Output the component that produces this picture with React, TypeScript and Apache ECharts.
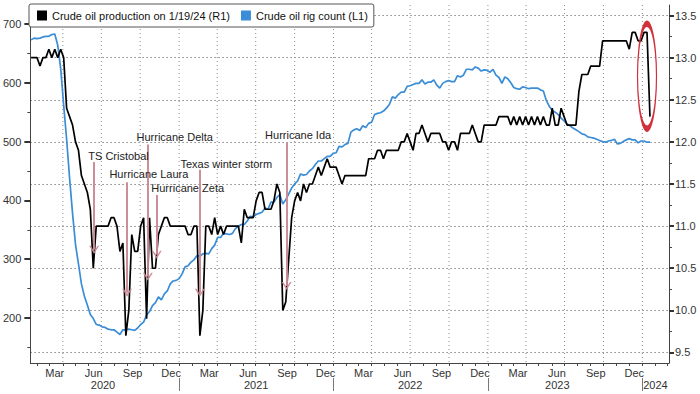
import React, { useEffect, useRef } from "react";
import * as echarts from "echarts";

const FONT = "'Liberation Sans', Arial, sans-serif";
const PROD_NAME = "Crude oil production on 1/19/24 (R1)";
const RIG_NAME = "Crude oil rig count (L1)";
const BLUE = "#3a8dd6";
const ARROW = "#c98893";
const GRID_COLOR = "#8c8c8c";

// Weekly observations (Fridays) starting 2020-01-17
const FIRST_FRIDAY = "2020-01-17";

// US crude oil production, million b/d (right axis)
const prod2020 = [13.0, 13.0, 13.0, 12.9, 13.0, 13.0, 13.1, 13.0, 13.1, 13.0, 13.1,
  13.0, 12.4, 12.3, 12.2, 12.0, 11.9, 11.6, 11.5, 11.4, 11.2,
  10.5, 11.0, 11.0, 11.0, 11.0, 11.0, 11.1, 11.1, 11.0, 10.7,
  10.8, 9.7, 10.0, 10.9, 10.7, 10.7, 11.0, 11.1, 9.9, 11.1,
  10.5, 10.5, 10.9, 11.0, 11.1, 11.1, 11.0, 11.0, 11.0, 11.0];
const prod2021 = [11.0, 11.0, 10.9, 10.9, 11.0, 11.0, 9.7, 10.0, 11.0, 11.0,
  10.9, 11.1, 10.9, 11.0, 10.9, 11.0, 11.0, 11.0, 11.0, 11.0,
  10.8, 11.2, 11.1, 11.1, 11.1, 11.3, 11.4, 11.4, 11.2, 11.2,
  11.2, 11.3, 11.5, 11.4, 10.0, 10.1, 10.6, 11.1, 11.3, 11.4,
  11.3, 11.5, 11.4, 11.5, 11.5, 11.6, 11.7, 11.6, 11.7, 11.8,
  11.7, 11.7];
const prod2022 = [11.7, 11.6, 11.5, 11.6, 11.6, 11.6, 11.6, 11.6, 11.6, 11.6,
  11.6, 11.8, 11.8, 11.8, 11.9, 11.9, 11.8, 11.9, 11.9, 11.9,
  11.9, 11.9, 12.0, 12.0, 12.1, 12.0, 11.9, 12.1, 12.1, 12.2,
  12.1, 12.0, 12.1, 12.1, 12.1, 12.1, 12.0, 12.0, 11.9, 12.0,
  12.0, 11.9, 12.1, 12.1, 12.1, 12.1, 12.2, 12.1, 12.0, 12.0,
  12.2, 12.2];
const prod2023 = [12.2, 12.2, 12.2, 12.3, 12.3, 12.3, 12.3, 12.2, 12.3, 12.2,
  12.3, 12.2, 12.3, 12.2, 12.3, 12.2, 12.3, 12.2, 12.3, 12.2,
  12.2, 12.4, 12.2, 12.2, 12.4, 12.3, 12.2, 12.2, 12.2, 12.2,
  12.6, 12.8, 12.8, 12.8, 12.9, 12.9, 12.9, 12.9, 13.2, 13.2,
  13.2, 13.2, 13.2, 13.2, 13.2, 13.2, 13.2, 13.1, 13.3, 13.3,
  13.2, 13.2];
const prod2024 = [13.3, 13.3, 12.3];

// US crude oil rig count (left axis)
const rig2020 = [673, 676, 675, 676, 678, 679, 679, 682, 683, 664, 624,
  562, 504, 438, 378, 325, 292, 258, 237, 222, 206,
  199, 189, 188, 185, 184, 181, 180, 180, 176, 172,
  180, 180, 181, 180, 179, 183, 189, 193, 205, 211,
  221, 226, 236, 231, 241, 246, 258, 263, 264, 267];
const rig2021 = [275, 287, 289, 295, 299, 306, 305, 309, 310, 309,
  318, 324, 337, 337, 344, 343, 342, 344, 352, 356,
  359, 359, 365, 373, 372, 376, 378, 380, 387, 385,
  397, 397, 405, 410, 394, 401, 411, 421, 428, 433,
  445, 443, 444, 450, 454, 461, 467, 467, 471, 475,
  475, 480];
const rig2022 = [481, 492, 491, 495, 497, 516, 520, 522, 519, 527,
  524, 531, 533, 546, 548, 549, 552, 557, 563, 576,
  574, 580, 584, 584, 594, 595, 597, 599, 599, 605,
  598, 601, 601, 605, 596, 591, 599, 602, 604, 602,
  602, 612, 610, 613, 623, 623, 622, 627, 625, 620,
  622, 621];
const rig2023 = [618, 623, 613, 609, 599, 610, 607, 600, 592, 590,
  589, 593, 592, 590, 591, 591, 591, 588, 586, 570,
  560, 553, 550, 546, 540, 535, 530, 527, 523, 520,
  517, 513, 512, 508, 507, 506, 504, 502, 500, 499,
  501, 502, 504, 496, 497, 500, 503, 505, 503, 503,
  498, 501];
const rig2024 = [501, 499, 499];

const production = [...prod2020, ...prod2021, ...prod2022, ...prod2023, ...prod2024];
const rigCount = [...rig2020, ...rig2021, ...rig2022, ...rig2023, ...rig2024];

// Axis ticks / labels
const RIG_TICKS = [200, 300, 400, 500, 600, 700];
const RIG_MINOR = [150, 250, 350, 450, 550, 650];
const PROD_TICKS = [9.5, 10.0, 10.5, 11.0, 11.5, 12.0, 12.5, 13.0, 13.5];
const PROD_MINOR = [9.75, 10.25, 10.75, 11.25, 11.75, 12.25, 12.75, 13.25];
const MONTH_LABELS = ["Mar", "Jun", "Sep", "Dec"];
const MONTH_NAMES = ["Jan", "Feb", "Mar", "Apr", "May", "Jun", "Jul", "Aug", "Sep", "Oct", "Nov", "Dec"];
const LABEL_YEARS = [2020, 2021, 2022, 2023];
const YEAR_LABEL_DATES = ["2020-07-05", "2021-07-02", "2022-07-01", "2023-06-14", "2024-02-01"];

// Annotations
const notes = [
  { label: "TS Cristobal", textAt: "2020-05-30", textV: 11.83, arrowAt: "2020-06-14", from: 11.76, to: 10.72 },
  { label: "Hurricane Laura", textAt: "2020-07-19", textV: 11.62, arrowAt: "2020-08-31", from: 11.52, to: 10.21 },
  { label: "Hurricane Delta", textAt: "2020-09-21", textV: 12.06, arrowAt: "2020-10-19", from: 11.97, to: 10.40 },
  { label: "Hurricane Zeta", textAt: "2020-10-26", textV: 11.45, arrowAt: "2020-11-09", from: 11.37, to: 10.66 },
  { label: "Texas winter storm", textAt: "2021-01-03", textV: 11.74, arrowAt: "2021-02-19", from: 11.67, to: 10.21 },
  { label: "Hurricane Ida", textAt: "2021-07-22", textV: 12.08, arrowAt: "2021-09-12", from: 11.99, to: 10.29 },
];
const HIGHLIGHT = { at: "2024-01-12", v: 12.78 };

const X_MIN = Date.UTC(2020, 0, 15, 6);
const X_MAX = Date.UTC(2024, 2, 4);
const WEEK_MS = 7 * 86400000;
const CHEVRON = "path://M5,0 L10,10 L8.4,10 L5,3.2 L1.6,10 L0,10 Z";

function monthStarts(filter: (m: number) => boolean): number[] {
  const out: number[] = [];
  for (let y = 2020; y <= 2024; y++) {
    for (let m = 0; m < 12; m++) {
      const t = Date.UTC(y, m, 1);
      if (t >= X_MIN && t <= X_MAX && filter(m)) out.push(t);
    }
  }
  return out;
}

export default function App() {
  const ref = useRef<HTMLDivElement>(null);

  useEffect(() => {
    document.body.style.margin = "0";
    if (!ref.current) return;
    const chart = echarts.init(ref.current, undefined, { renderer: "svg" });

    const start = Date.parse(FIRST_FRIDAY);
    const dates = production.map((_, i) => start + i * WEEK_MS);
    const prodData = production.map((v, i) => [dates[i], v]);
    const rigData = rigCount.map((v, i) => [dates[i], v]);

    const monthTicks = monthStarts(() => true);
    const quarterLines = monthStarts((m) => m % 3 === 0);
    const yearTicks = monthStarts((m) => m === 0);
    const monthLabelDates: number[] = [];
    LABEL_YEARS.forEach((y) => {
      MONTH_LABELS.forEach((name) => {
        monthLabelDates.push(Date.UTC(y, MONTH_NAMES.indexOf(name), 13));
      });
    });
    const yearLabelDates = YEAR_LABEL_DATES.map((d) => Date.parse(d));

    const txt = { fontFamily: FONT, fontSize: 11, color: "#333" };

    const option: any = {
      animation: false,
      textStyle: { fontFamily: FONT },
      grid: { left: 29, right: 31, top: 5, bottom: 31, containLabel: false },
      legend: {
        left: 29,
        top: 4,
        padding: [6, 6, 6, 8],
        itemWidth: 10,
        itemHeight: 10,
        itemGap: 11,
        icon: "rect",
        borderColor: "#555",
        borderWidth: 1,
        borderRadius: 2,
        backgroundColor: "#fff",
        textStyle: { fontFamily: FONT, fontSize: 11, color: "#111" },
        data: [PROD_NAME, RIG_NAME],
        z: 10,
      },
      xAxis: [
        {
          type: "value",
          position: "bottom",
          min: X_MIN,
          max: X_MAX,
          axisLine: { show: true, lineStyle: { color: "#444", width: 1 } },
          axisTick: { show: true, customValues: monthTicks, length: 3, lineStyle: { color: "#444" } },
          axisLabel: {
            show: true,
            customValues: monthLabelDates,
            formatter: (v: number) => MONTH_NAMES[new Date(v).getUTCMonth()],
            margin: 4,
            ...txt,
          },
          splitLine: { show: false },
        },
        {
          type: "value",
          position: "bottom",
          offset: 15,
          min: X_MIN,
          max: X_MAX,
          axisLine: { show: false },
          axisTick: { show: true, customValues: yearTicks, length: 13, lineStyle: { color: "#777" } },
          axisLabel: {
            show: true,
            customValues: yearLabelDates,
            formatter: (v: number) => String(new Date(v).getUTCFullYear()),
            margin: 1,
            ...txt,
          },
          splitLine: { show: false },
        },
      ],
      yAxis: [
        {
          type: "value",
          position: "left",
          min: 123.5,
          max: 732.3,
          axisLine: { show: true, lineStyle: { color: "#444" } },
          axisTick: { show: true, customValues: RIG_TICKS, length: 6, lineStyle: { color: "#333", width: 2 } },
          axisLabel: { show: true, customValues: RIG_TICKS, margin: 9, formatter: (v: number) => String(v), ...txt },
          splitLine: { show: false },
        },
        {
          type: "value",
          position: "right",
          min: 9.375,
          max: 13.625,
          splitNumber: 8,
          axisLine: { show: true, lineStyle: { color: "#444" } },
          axisTick: { show: true, customValues: PROD_TICKS, length: 5, lineStyle: { color: "#333", width: 2 } },
          axisLabel: { show: true, customValues: PROD_TICKS, margin: 6, formatter: (v: number) => v.toFixed(1), ...txt },
          splitLine: { show: true, lineStyle: { color: "#888", width: 1, type: [1.5, 2.5] } },
        },
        {
          type: "value",
          position: "left",
          min: 123.5,
          max: 732.3,
          axisLine: { show: false },
          axisTick: { show: true, customValues: RIG_MINOR, length: 3, lineStyle: { color: "#444" } },
          axisLabel: { show: false },
          splitLine: { show: false },
        },
        {
          type: "value",
          position: "right",
          min: 9.375,
          max: 13.625,
          axisLine: { show: false },
          axisTick: { show: true, customValues: PROD_MINOR, length: 3, lineStyle: { color: "#444" } },
          axisLabel: { show: false },
          splitLine: { show: false },
        },
      ],
      series: [
        {
          name: "vgrid",
          type: "custom",
          xAxisIndex: 0,
          yAxisIndex: 1,
          silent: true,
          z: 1,
          data: quarterLines.map((t) => [t, 11.5]),
          renderItem: (params: any, api: any) => {
            const cs = params.coordSys;
            const x = api.coord([api.value(0), api.value(1)])[0];
            return {
              type: "line",
              silent: true,
              shape: { x1: x, y1: cs.y, x2: x, y2: cs.y + cs.height },
              style: { stroke: GRID_COLOR, lineWidth: 1, lineDash: [1, 3] },
            };
          },
        },
        {
          name: RIG_NAME,
          type: "line",
          xAxisIndex: 0,
          yAxisIndex: 0,
          data: rigData,
          symbol: "none",
          showSymbol: false,
          lineStyle: { color: BLUE, width: 1.7 },
          itemStyle: { color: BLUE },
          z: 3,
        },
        {
          name: PROD_NAME,
          type: "line",
          xAxisIndex: 0,
          yAxisIndex: 1,
          data: prodData,
          symbol: "none",
          showSymbol: false,
          lineStyle: { color: "#000", width: 1.7 },
          itemStyle: { color: "#000" },
          z: 4,
        },
        {
          name: "annotations",
          type: "line",
          xAxisIndex: 0,
          yAxisIndex: 1,
          data: [],
          silent: true,
          markLine: {
            z: 6,
            silent: true,
            symbol: ["none", "none"],
            label: { show: false },
            lineStyle: { color: ARROW, width: 2, type: "solid", opacity: 0.95 },
            data: notes.map((n) => [
              { coord: [Date.parse(n.arrowAt), n.from], symbol: "none" },
              { coord: [Date.parse(n.arrowAt), n.to], symbol: CHEVRON, symbolSize: [10, 8] },
            ]),
          },
          markPoint: {
            z: 7,
            silent: true,
            data: [
              ...notes.map((n) => ({
                name: n.label,
                coord: [Date.parse(n.textAt), n.textV],
                symbol: "rect",
                symbolSize: 1,
                itemStyle: { color: "rgba(0,0,0,0)" },
                label: {
                  show: true,
                  position: "right",
                  distance: 0,
                  formatter: n.label,
                  fontFamily: FONT,
                  fontSize: 11,
                  color: "#222",
                },
              })),
              {
                name: "highlight",
                coord: [Date.parse(HIGHLIGHT.at), HIGHLIGHT.v],
                symbol: "circle",
                symbolSize: [19, 105],
                itemStyle: { color: "rgba(0,0,0,0)", borderColor: "#d2303b", borderWidth: 2.8 },
                label: { show: false },
              },
            ],
          },
        },
      ],
    };

    chart.setOption(option);
    return () => chart.dispose();
  }, []);

  return <div ref={ref} style={{ width: 700, height: 394 }} />;
}
